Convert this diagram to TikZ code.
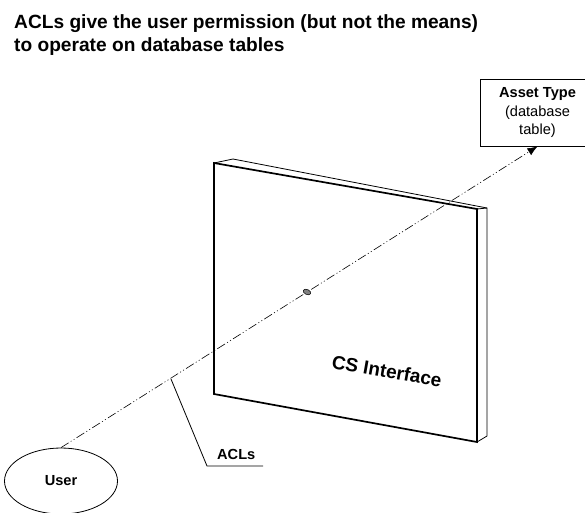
\documentclass[tikz,border=0pt]{standalone}
\usepackage{fontspec}
\setmainfont{Liberation Sans}
\usetikzlibrary{arrows.meta,shapes.geometric}
\tikzset{
 thin line/.style={draw=black,line width=0.8pt},
 heavy/.style={draw=black,line width=1.7pt,line join=miter},
 axis/.style={draw=black,line width=0.6pt,dash pattern=on 9pt off 2.5pt on 1pt off 2.5pt on 1pt off 2.5pt},
 lab/.style={font=\fontsize{14.6pt}{17pt}\selectfont\bfseries}
}
\begin{document}
\begin{tikzpicture}[x=1pt,y=-1pt]
\useasboundingbox (0,0) rectangle (585,512);
\node[anchor=base west,align=left,inner sep=0pt,font=\fontsize{19.15pt}{23pt}\selectfont\bfseries] (title) at (14,51) {ACLs give the user permission (but not the means)\\to operate on database tables};
\node[thin line,minimum width=115pt,minimum height=67pt,inner sep=0pt,align=center,font=\fontsize{14.6pt}{18.5pt}\selectfont,fill=white] (asset) at (537.5,112.5) {\textbf{Asset Type}\\(database\\table)};
\node[thin line,ellipse,minimum width=113pt,minimum height=66pt,inner sep=0pt,font=\fontsize{14.6pt}{17pt}\selectfont\bfseries] (user) at (61,481) {User};
\coordinate (tl) at (214,163);
\coordinate (tr) at (477,209);
\coordinate (br) at (477,442);
\coordinate (bl) at (214,394);
\coordinate (btl) at (233,159);
\coordinate (btr) at (487,208);
\coordinate (bbr) at (487,436);
\draw[thin line] (tl) -- (btl) -- (btr) -- (bbr) -- (br);
\draw[thin line] (tr) -- (btr);
\draw[heavy] (tl) -- (tr) -- (br) -- (bl) -- cycle;
\draw[axis,-{Latex[length=10pt,width=8pt]}] (user.north) -- (asset.south);
\node[ellipse,draw=black,fill=gray,line width=0.5pt,minimum width=8pt,minimum height=5pt,inner sep=0pt,rotate=-25] (hole) at (307,292) {};
\coordinate (aclstart) at (171,379);
\coordinate (aclknee) at (207,466);
\coordinate (aclend) at (263,466);
\draw[thin line] (aclstart) -- (aclknee) -- (aclend);
\node[lab,anchor=base west,inner sep=0pt] (acl) at (217,459) {ACLs};
\node[font=\fontsize{19pt}{21pt}\selectfont\bfseries,rotate=-10] (cs) at (387,371) {CS Interface};
\end{tikzpicture}
\end{document}
